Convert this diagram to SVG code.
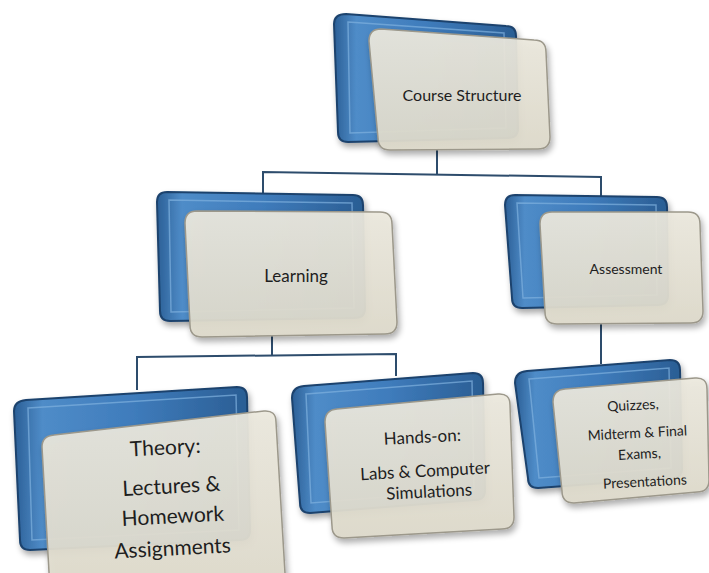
<svg xmlns="http://www.w3.org/2000/svg" width="709" height="573" viewBox="0 0 709 573">
<defs>
<linearGradient id="blueG" x1="0" y1="0" x2="1" y2="0">
<stop offset="0" stop-color="#2b5f96"/>
<stop offset="0.12" stop-color="#4f8cc8"/>
<stop offset="0.5" stop-color="#3f7cbc"/>
<stop offset="1" stop-color="#2a5d93"/>
</linearGradient>
<linearGradient id="beigeG" x1="0" y1="0" x2="0" y2="1">
<stop offset="0" stop-color="#ece9de"/>
<stop offset="1" stop-color="#dedacb"/>
</linearGradient>
<filter id="sh" x="-10%" y="-10%" width="125%" height="125%">
<feGaussianBlur in="SourceAlpha" stdDeviation="3"/>
<feOffset dx="2" dy="4"/>
<feComponentTransfer><feFuncA type="linear" slope="0.35"/></feComponentTransfer>
<feMerge><feMergeNode/><feMergeNode in="SourceGraphic"/></feMerge>
</filter>
</defs>
<style>
.back{fill:url(#blueG);stroke:#1c436d;stroke-width:2;filter:url(#sh)}
.rim{fill:none;stroke:#7fb0de;stroke-width:1.5;opacity:0.7}
.front{fill:url(#beigeG);fill-opacity:0.93;stroke:#9c988b;stroke-width:1.5;filter:url(#sh)}
.lbl{font-family:Lato,"Open Sans",sans-serif;fill:#1e1e1e;text-anchor:middle}
.con{fill:none;stroke:#2d4c6c;stroke-width:2}
</style>
<rect width="709" height="573" fill="#ffffff"/>
<g id="connectors">
<path class="con" d="M437,150 L437,174 M263,194 L263,172 L601,177 L601,198"/>
<path class="con" d="M272,336 L272,355 M137,390 L137,357 L396,354 L396,376"/>
<path class="con" d="M601,323 L601,364"/>
</g>
<g id="course">
<path class="back" d="M346,14 L506,26 Q516,26 516,36 L518,128 Q518,138 508,138 L348,142 Q338,142 338,132 L334,24 Q334,14 346,14 Z"/>
<path class="rim" d="M348,22 L504,33 L506,128 L350,133 Z"/>
<path class="front" d="M381,29 L534,40 Q546,40 546,52 L550,137 Q550,149 538,149 L390,150 Q378,150 378,138 L369,41 Q369,29 381,29 Z"/>
<text class="lbl" x="462" y="101" font-size="16">Course Structure</text>
</g>
<g id="learning">
<path class="back" d="M167,192 L353,195 Q363,195 363,205 L365,308 Q365,318 355,318 L170,321 Q160,321 160,311 L157,202 Q157,192 167,192 Z"/>
<path class="rim" d="M169,200 L352,203 L354,308 L171,312 Z"/>
<path class="front" d="M197,211 L380,212 Q392,212 392,224 L397,322 Q397,334 385,334 L202,337 Q190,337 190,325 L185,223 Q185,211 197,211 Z"/>
<text class="lbl" x="296" y="282" font-size="17">Learning</text>
</g>
<g id="assessment">
<path class="back" d="M515,195 L657,197 Q667,197 667,207 L668,295 Q668,305 658,305 L522,308 Q512,308 512,298 L505,205 Q505,195 515,195 Z"/>
<path class="rim" d="M517,203 L656,205 L657,295 L523,298 Z"/>
<path class="front" d="M552,212 L688,212 Q700,212 700,224 L703,311 Q703,323 691,323 L557,324 Q545,324 545,312 L540,224 Q540,212 552,212 Z"/>
<text class="lbl" x="626" y="274" font-size="14">Assessment</text>
</g>
<g id="theory">
<path class="back" d="M26,400 L237,387 Q247,387 247,397 L250,530 Q250,540 240,540 L30,550 Q20,550 20,540 L14,411 Q14,401 26,400 Z"/>
<path class="rim" d="M28,408 L236,395 L239,530 L32,540 Z"/>
<path class="front" d="M54,435 L264,411 Q276,410 276,422 L286,590 L50,590 L42,447 Q42,436 54,435 Z"/>
<g transform="rotate(-3 160 500)">
<text class="lbl" x="168" y="455" font-size="21">Theory:</text>
<text class="lbl" x="172" y="494" font-size="21">Lectures &amp;</text>
<text class="lbl" x="172" y="524" font-size="21">Homework</text>
<text class="lbl" x="170" y="556" font-size="21">Assignments</text>
</g>
</g>
<g id="handson">
<path class="back" d="M304,386 L473,373 Q483,373 483,383 L485,490 Q485,500 475,500 L310,513 Q300,513 300,503 L292,398 Q292,387 304,386 Z"/>
<path class="rim" d="M306,394 L472,381 L474,490 L311,503 Z"/>
<path class="front" d="M337,409 L498,394 Q510,393 510,405 L514,517 Q514,529 502,529 L344,538 Q332,538 332,526 L325,422 Q325,410 337,409 Z"/>
<g transform="rotate(-3 420 470)">
<text class="lbl" x="424" y="443" font-size="17">Hands-on:</text>
<text class="lbl" x="425" y="477" font-size="17">Labs &amp; Computer</text>
<text class="lbl" x="428" y="498" font-size="17">Simulations</text>
</g>
</g>
<g id="quizzes">
<path class="back" d="M527,371 L670,360 Q680,360 680,370 L682,468 Q682,478 672,478 L538,488 Q528,488 528,478 L515,383 Q515,372 527,371 Z"/>
<path class="rim" d="M529,379 L669,368 L671,468 L539,478 Z"/>
<path class="front" d="M565,389 L695,378 Q707,377 707,389 L709,480 Q709,492 697,492 L574,503 Q562,503 562,491 L553,402 Q553,390 565,389 Z"/>
<g transform="rotate(-3 635 445)">
<text class="lbl" x="635" y="410" font-size="14">Quizzes,</text>
<text class="lbl" x="638" y="438" font-size="14">Midterm &amp; Final</text>
<text class="lbl" x="639" y="459" font-size="14">Exams,</text>
<text class="lbl" x="643" y="487" font-size="14">Presentations</text>
</g>
</g>
</svg>
